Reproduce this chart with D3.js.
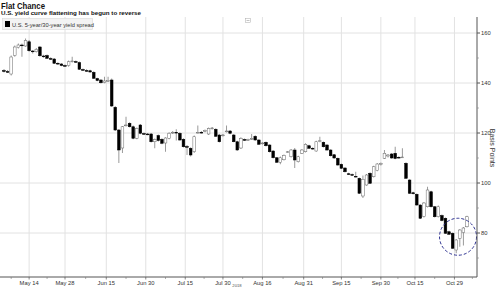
<!DOCTYPE html>
<html>
<head>
<meta charset="utf-8">
<script src="https://cdn.jsdelivr.net/npm/d3@7"></script>
<style>
  body { margin: 0; background: #fff; }
  svg { display: block; font-family: "Liberation Sans", Arial, sans-serif; }
</style>
</head>
<body>
<script>
// daily OHLC of the 5s30s spread, one entry per trading day (bp)
var open = [145.0,144.6,143.6,151.0,154.2,155.2,154.8,156.5,152.8,152.5,154.4,150.8,151.0,149.8,149.6,147.9,147.6,147.0,147.0,148.6,
  148.6,148.2,145.4,145.0,144.9,144.3,141.8,141.2,140.2,140.8,141.2,130.3,121.2,114.0,123.0,123.9,122.5,117.9,123.2,119.8,
  119.6,119.6,116.5,119.0,117.5,116.0,117.9,120.2,120.3,119.9,117.5,114.6,113.9,112.5,120.0,120.3,120.8,119.6,121.8,121.5,
  119.2,119.0,120.6,120.8,119.2,116.5,114.0,117.4,117.2,117.5,118.7,117.2,115.8,116.3,115.2,112.8,110.1,108.3,109.3,112.3,
  110.5,113.2,108.5,111.9,112.5,114.9,113.9,112.8,116.6,116.3,115.2,113.2,111.3,109.9,107.5,106.0,103.7,103.4,102.7,101.9,
  94.8,99.2,103.9,102.5,105.0,107.4,109.9,110.8,111.6,111.9,110.3,110.2,107.9,101.2,96.1,95.5,91.2,86.6,90.5,96.5,
  90.5,86.5,87.0,85.9,80.5,79.9,73.2,77.9,80.2,82.5];
var high = [145.6,145.2,151.0,155.0,155.8,155.8,157.8,157.2,153.2,154.0,154.8,151.3,151.4,150.3,150.0,148.3,148.0,147.4,149.0,150.5,
  149.0,148.6,145.8,145.5,145.3,144.7,142.1,141.5,142.5,142.5,141.8,130.8,121.6,122.8,126.5,124.3,123.0,122.2,123.6,120.2,
  120.0,120.0,117.8,119.4,117.9,118.3,120.3,120.8,121.5,120.3,117.9,115.2,114.3,119.0,123.0,120.8,121.4,122.2,122.4,121.9,
  119.6,119.6,123.0,121.2,119.6,116.9,118.3,117.8,117.7,119.6,119.1,117.5,116.3,116.6,115.5,113.1,110.4,110.6,111.4,112.8,
  113.6,114.0,110.9,113.6,115.9,115.3,114.3,116.9,118.5,116.6,115.5,113.5,111.6,110.2,107.8,106.3,104.1,103.8,104.5,102.2,
  103.0,103.6,104.3,106.9,108.0,108.2,113.2,111.6,112.0,114.5,110.7,113.9,108.3,101.5,96.5,95.8,91.5,92.4,98.5,96.9,
  90.8,91.0,87.4,86.2,80.9,80.2,77.6,81.6,82.4,86.9];
var low = [144.2,144.0,143.0,150.5,153.8,150.5,154.5,152.5,151.8,152.2,150.5,150.1,149.6,149.2,147.6,147.2,146.7,146.6,146.5,148.2,
  148.0,145.2,144.8,144.5,144.1,141.6,140.7,139.8,139.9,140.4,130.4,120.8,108.0,112.0,122.6,122.2,117.5,117.5,119.5,119.2,
  119.1,116.2,113.9,116.6,115.5,112.5,117.5,119.6,117.0,116.9,114.2,111.2,110.6,112.0,119.8,119.8,120.3,119.2,121.4,118.4,
  116.2,118.6,120.2,119.5,116.3,112.9,113.6,116.8,116.8,117.2,116.9,115.2,115.4,114.6,112.2,109.8,108.0,107.5,109.0,112.0,
  110.2,106.0,108.2,111.6,112.2,113.6,113.3,112.5,116.3,114.2,112.9,110.6,109.7,106.9,105.6,104.2,103.2,102.9,102.2,95.6,
  94.0,98.9,99.6,102.2,104.7,107.0,109.6,110.2,109.7,109.5,109.8,110.0,101.6,95.6,95.4,90.9,85.6,86.2,90.2,90.2,
  86.2,86.2,84.7,79.6,79.2,73.6,71.9,74.5,75.0,82.2];
var close = [144.6,144.3,150.4,154.4,155.2,155.0,157.0,152.9,152.5,153.5,150.9,150.5,149.9,149.6,147.9,147.6,147.0,146.9,148.5,148.8,
  148.4,145.5,145.1,144.8,144.4,141.9,141.0,140.1,140.8,141.0,130.8,121.2,113.2,122.5,123.2,122.5,117.9,121.8,119.9,119.6,
  119.5,116.5,117.4,117.0,115.9,118.0,119.9,120.3,120.2,117.2,114.5,114.3,111.2,118.5,120.3,120.2,121.0,121.8,122.0,118.7,
  116.5,119.2,120.8,119.9,116.5,113.2,117.8,117.2,117.4,117.8,117.2,115.5,116.0,114.9,112.5,110.1,108.3,110.1,111.0,112.5,
  113.2,109.2,110.5,113.2,115.5,113.9,113.6,116.5,116.9,114.5,113.2,110.9,110.0,107.2,105.9,104.5,103.5,103.2,102.5,95.9,
  101.5,103.2,99.9,106.5,107.6,107.8,111.9,111.2,110.0,109.8,110.1,110.4,101.9,95.9,95.7,91.2,85.9,92.0,97.2,90.5,
  86.5,90.5,85.0,79.9,79.5,73.9,77.2,81.2,82.0,86.5];

var tickLabels = ["May 14","May 28","Jun 15","Jun 30","Jul 15","Jul 30","Aug 16","Aug 31","Sep 15","Sep 30","Oct 15","Oct 29"];
var tickIdx = [7, 17, 28.5, 39.5, 50.5, 61, 72, 83.5, 94, 105, 114.5, 125.5];
var yTicks = [80, 100, 120, 140, 160];
var yMinor = [70, 90, 110, 130, 150];

var W = 500, H = 287;
var svg = d3.select('body').append('svg').attr('width', W).attr('height', H);

var plotL = 0, plotR = 477, plotT = 17, plotB = 277;
var x = d3.scaleLinear().domain([0, close.length - 1]).range([4, 467]);
var y = d3.scaleLinear().domain([80, 160]).range([233, 33]);

// titles
svg.append('text').attr('x', 1).attr('y', 8.5).attr('font-size', 9.5).attr('font-weight', 'bold')
  .attr('fill', '#111').attr('textLength', 44).attr('lengthAdjust', 'spacingAndGlyphs').text('Flat Chance');
svg.append('text').attr('x', 1).attr('y', 15).attr('font-size', 5.8).attr('font-weight', 'bold')
  .attr('fill', '#111').attr('textLength', 140).attr('lengthAdjust', 'spacingAndGlyphs')
  .text('U.S. yield curve flattening has begun to reverse');

// grid
var grid = svg.append('g');
grid.selectAll('line.h').data(yTicks).enter().append('line')
  .attr('x1', plotL).attr('x2', plotR).attr('y1', function (d) { return y(d); }).attr('y2', function (d) { return y(d); })
  .attr('stroke', '#e2e2e2').attr('stroke-width', 1);
grid.selectAll('line.v').data(tickIdx).enter().append('line')
  .attr('x1', function (d) { return x(d); }).attr('x2', function (d) { return x(d); })
  .attr('y1', plotT).attr('y2', plotB)
  .attr('stroke', '#e2e2e2').attr('stroke-width', 1);

// legend
svg.append('rect').attr('x', 2.5).attr('y', 18.5).attr('width', 90).attr('height', 11)
  .attr('fill', '#f3f3f3').attr('stroke', '#d8d8d8').attr('stroke-width', 0.6);
svg.append('rect').attr('x', 5).attr('y', 21).attr('width', 5).attr('height', 6).attr('fill', '#000');
svg.append('text').attr('x', 12).attr('y', 26.5).attr('font-size', 5.7).attr('fill', '#333')
  .text('U.S. 5-year/30-year yield spread');
// little collapse icon
svg.append('rect').attr('x', 245.5).attr('y', 18.5).attr('width', 5).attr('height', 4)
  .attr('fill', '#fff').attr('stroke', '#aaa').attr('stroke-width', 0.5);
svg.append('line').attr('x1', 246.5).attr('x2', 249.5).attr('y1', 20.5).attr('y2', 20.5)
  .attr('stroke', '#888').attr('stroke-width', 0.5);

// candles
var idx = d3.range(close.length);
var cw = 2.7;
var g = svg.append('g');
g.selectAll('line.wick').data(idx).enter().append('line')
  .attr('x1', function (i) { return x(i); }).attr('x2', function (i) { return x(i); })
  .attr('y1', function (i) { return y(high[i]); }).attr('y2', function (i) { return y(low[i]); })
  .attr('stroke', '#555').attr('stroke-width', 0.6);
g.selectAll('rect.body').data(idx).enter().append('rect')
  .attr('x', function (i) { return x(i) - cw / 2; })
  .attr('y', function (i) { return y(Math.max(open[i], close[i])); })
  .attr('width', cw)
  .attr('height', function (i) { return Math.max(0.8, Math.abs(y(open[i]) - y(close[i]))); })
  .attr('fill', function (i) { return close[i] < open[i] ? '#000' : '#fff'; })
  .attr('stroke', function (i) { return close[i] < open[i] ? '#000' : '#666'; })
  .attr('stroke-width', 0.5);

// annotation circle around the latest rebound
svg.append('circle').attr('cx', x(126.5)).attr('cy', y(78.5)).attr('r', 18.5)
  .attr('fill', 'none').attr('stroke', '#2b2f8f').attr('stroke-width', 1)
  .attr('stroke-dasharray', '3,2');

// right axis
var yAxis = svg.append('g');
yAxis.append('line').attr('x1', plotR).attr('x2', plotR).attr('y1', plotT).attr('y2', plotB)
  .attr('stroke', '#555').attr('stroke-width', 1);
yAxis.selectAll('line.t').data(yTicks).enter().append('line')
  .attr('x1', plotR).attr('x2', plotR + 3).attr('y1', function (d) { return y(d); }).attr('y2', function (d) { return y(d); })
  .attr('stroke', '#555');
yAxis.selectAll('line.m').data(yMinor).enter().append('line')
  .attr('x1', plotR).attr('x2', plotR + 2).attr('y1', function (d) { return y(d); }).attr('y2', function (d) { return y(d); })
  .attr('stroke', '#888').attr('stroke-width', 0.6);
yAxis.selectAll('text').data(yTicks).enter().append('text')
  .attr('x', plotR + 4).attr('y', function (d) { return y(d) + 2; })
  .attr('font-size', 5.8).attr('fill', '#333').text(function (d) { return d; });
svg.append('text').attr('transform', 'translate(490,148) rotate(90)')
  .attr('text-anchor', 'middle').attr('font-size', 7).attr('fill', '#333').text('Basis Points');

// bottom axis
var xAxis = svg.append('g');
xAxis.append('line').attr('x1', plotL).attr('x2', plotR).attr('y1', plotB).attr('y2', plotB)
  .attr('stroke', '#555').attr('stroke-width', 1);
var mids = tickIdx.slice(0, -1).map(function (d, i) { return (d + tickIdx[i + 1]) / 2; });
mids.unshift(tickIdx[0] - 5);
mids.push(tickIdx[tickIdx.length - 1] + 5);
xAxis.selectAll('line.m').data(mids).enter().append('line')
  .attr('x1', function (d) { return x(d); }).attr('x2', function (d) { return x(d); })
  .attr('y1', plotB).attr('y2', plotB + 2).attr('stroke', '#777').attr('stroke-width', 0.6);
xAxis.selectAll('line.t').data(tickIdx).enter().append('line')
  .attr('x1', function (d) { return x(d); }).attr('x2', function (d) { return x(d); })
  .attr('y1', plotB).attr('y2', plotB + 2.5).attr('stroke', '#555').attr('stroke-width', 0.7);
xAxis.selectAll('text').data(tickIdx).enter().append('text')
  .attr('x', function (d) { return x(d); }).attr('y', plotB + 8)
  .attr('text-anchor', 'middle').attr('font-size', 5.8).attr('fill', '#333')
  .text(function (d, i) { return tickLabels[i]; });
svg.append('text').attr('x', 237).attr('y', 286.5).attr('text-anchor', 'middle')
  .attr('font-size', 4.2).attr('fill', '#555').text('2018');
</script>
</body>
</html>
